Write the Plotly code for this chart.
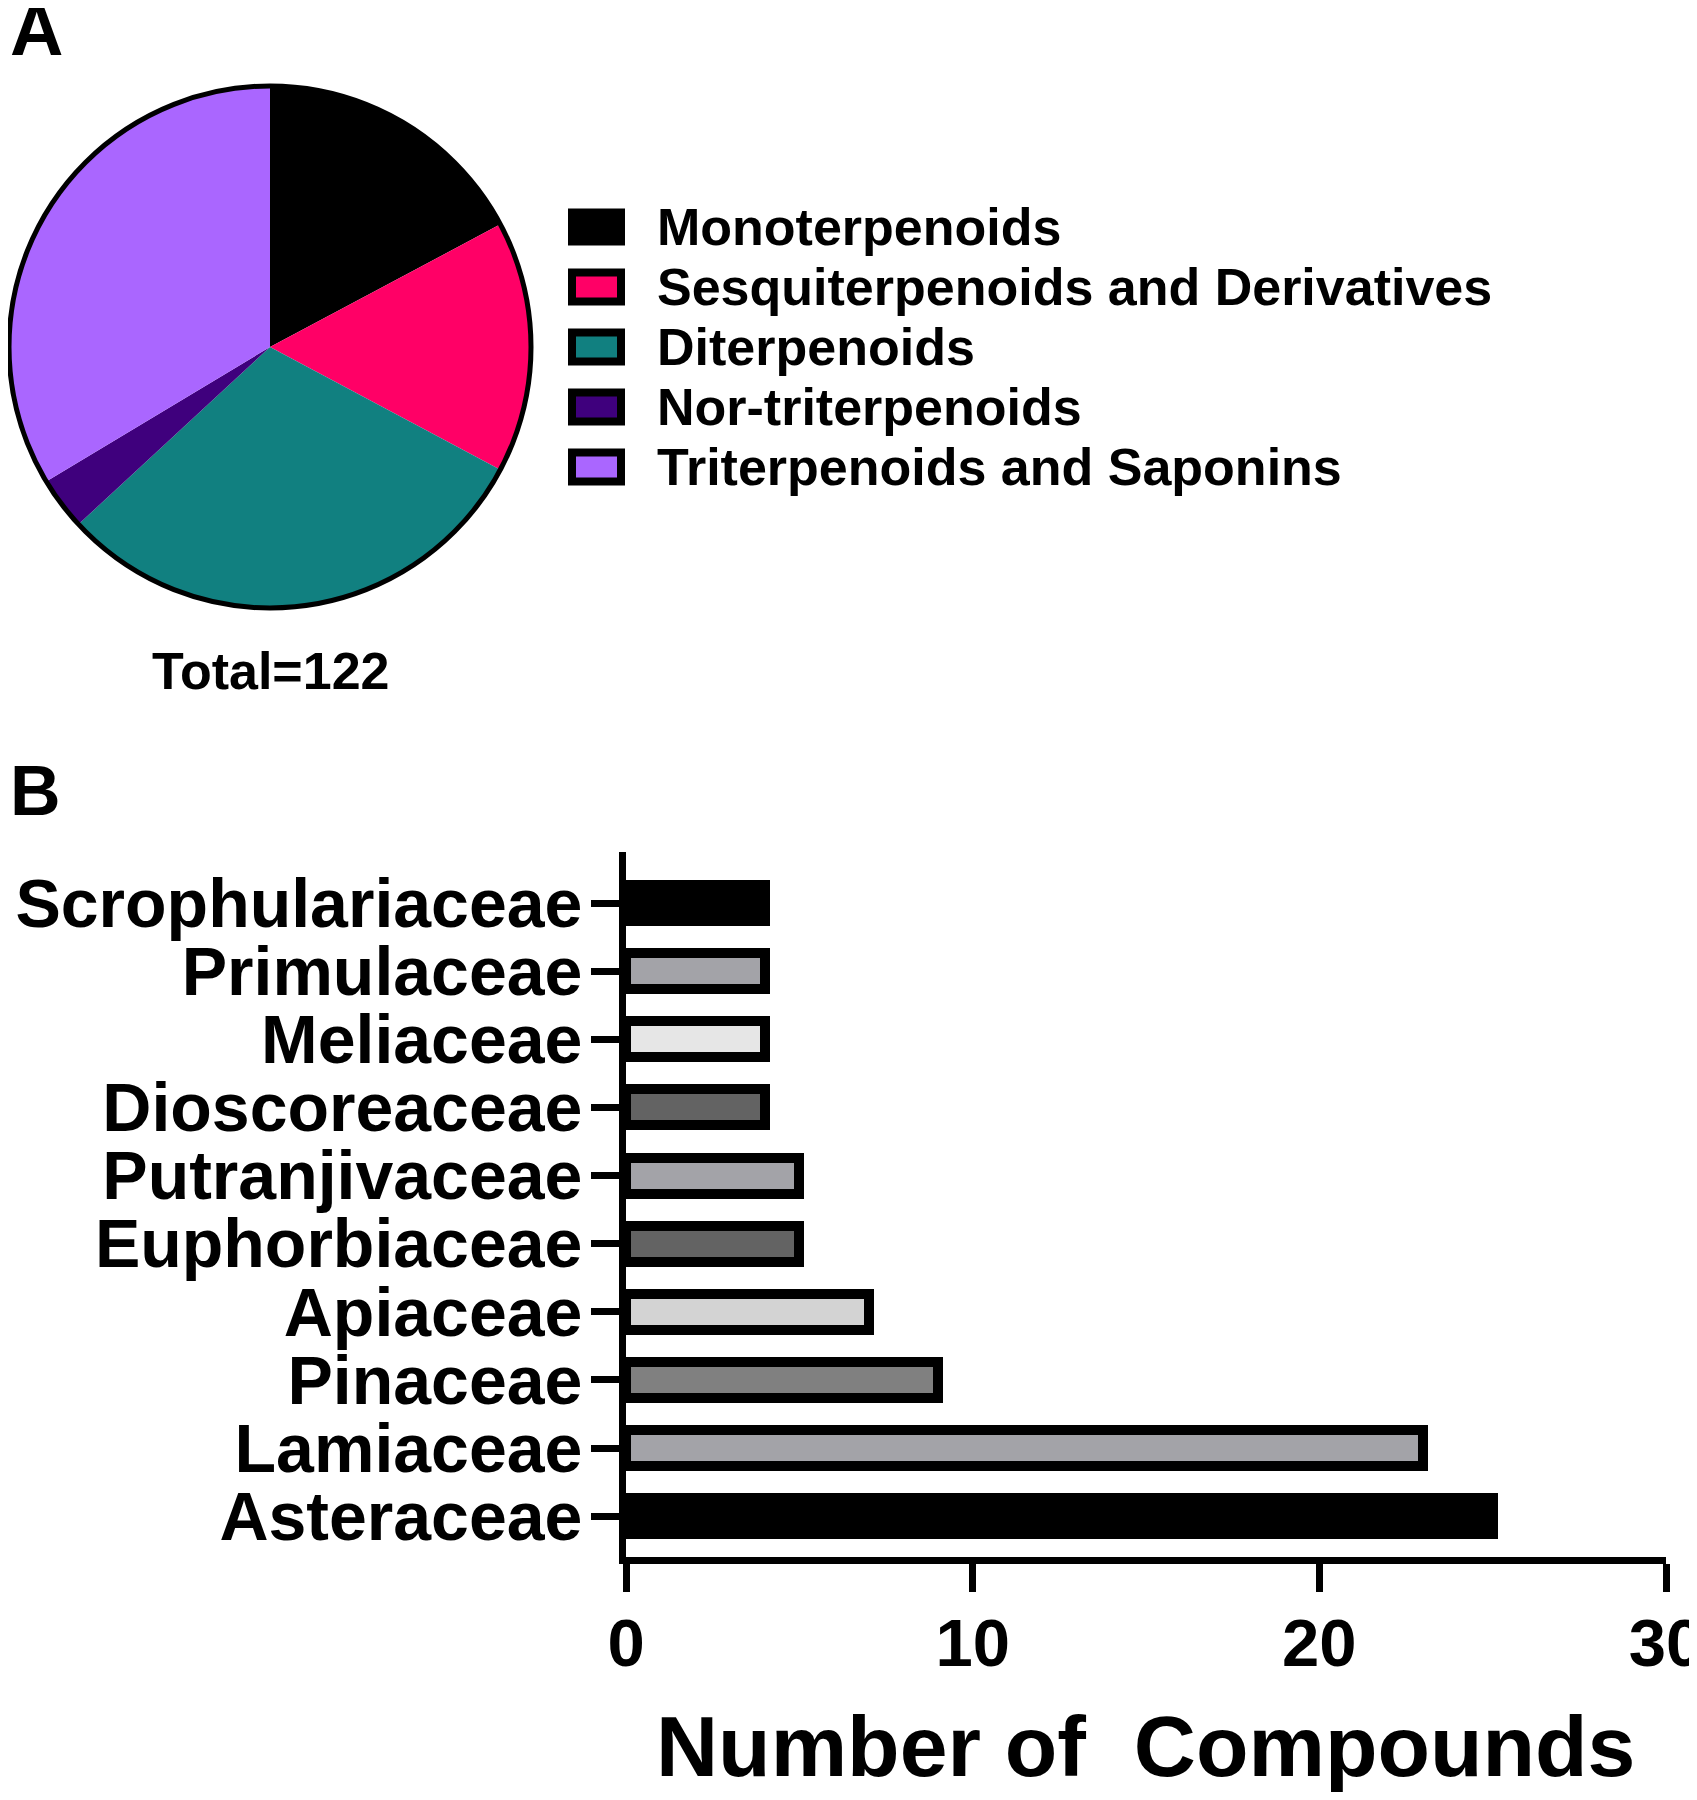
import plotly.graph_objects as go

# the page adds an 8 px body margin; keep the page inside the window so no scrollbar appears
OFF = 8
W, H = 1697 - OFF, 1800 - 2 * OFF

# panel A data
pie_labels = ["Monoterpenoids", "Sesquiterpenoids and Derivatives", "Diterpenoids",
              "Nor-triterpenoids", "Triterpenoids and Saponins"]
pie_values = [21, 19, 37, 4, 41]
pie_colors = ["#000000", "#FF0066", "#118080", "#3F007D", "#AA66FF"]
total_label = "Total=122"

# panel B data (top to bottom as drawn)
families = ["Scrophulariaceae", "Primulaceae", "Meliaceae", "Dioscoreaceae", "Putranjivaceae",
            "Euphorbiaceae", "Apiaceae", "Pinaceae", "Lamiaceae", "Asteraceae"]
compounds = [4, 4, 4, 4, 5, 5, 7, 9, 23, 25]
bar_colors = ["#000000", "#A3A3A8", "#E6E6E6", "#636363", "#A3A3A8",
              "#636363", "#D3D3D3", "#808080", "#A3A3A8", "#000000"]
x_ticks = [0, 10, 20, 30]
x_title = "Number of  Compounds"

FONT = "Liberation Sans, Arial, sans-serif"


# positions below are given in window pixels
def px(x):
    return (x - OFF) / W


def py(y):
    return 1 - (y - OFF) / H


fig = go.Figure()

# pie, outline added as a circle so the radial edges stay borderless
pie_box = [8, 85, 532, 609]
fig.add_trace(go.Pie(
    labels=pie_labels, values=pie_values, sort=False, direction="clockwise", rotation=0,
    marker=dict(colors=pie_colors, line=dict(width=0)),
    textinfo="none", hoverinfo="label+value", showlegend=False,
    domain=dict(x=[px(pie_box[0]), px(pie_box[2])], y=[py(pie_box[3]), py(pie_box[1])]),
))
fig.add_shape(type="circle", xref="paper", yref="paper",
              x0=px(pie_box[0] + 1), x1=px(pie_box[2] - 1), y0=py(pie_box[3] - 1), y1=py(pie_box[1] + 1),
              line=dict(color="black", width=5))

# hand-made legend
row0, rowstep = 227, 60
for i, (lab, col) in enumerate(zip(pie_labels, pie_colors)):
    yc = row0 + i * rowstep
    if col == "#000000":
        fig.add_shape(type="rect", xref="paper", yref="paper",
                      x0=px(568), x1=px(625), y0=py(yc + 18.5), y1=py(yc - 18.5),
                      fillcolor="black", line=dict(width=0))
    else:
        fig.add_shape(type="rect", xref="paper", yref="paper",
                      x0=px(572), x1=px(621), y0=py(yc + 14.5), y1=py(yc - 14.5),
                      fillcolor=col, line=dict(color="black", width=8))
    fig.add_annotation(x=px(655), y=py(yc), xref="paper", yref="paper", text=lab,
                       xanchor="left", yanchor="middle", showarrow=False,
                       font=dict(family=FONT, size=52, color="black", weight="bold"))

fig.add_annotation(x=px(270), y=py(671), xref="paper", yref="paper", text=total_label,
                   xanchor="center", yanchor="middle", showarrow=False,
                   font=dict(family=FONT, size=52, color="black", weight="bold"))

# panel letters
fig.add_annotation(x=0, y=py(-14), xref="paper", yref="paper", text="A",
                   xanchor="left", yanchor="top", showarrow=False,
                   font=dict(family=FONT, size=74, color="black", weight="bold"))
fig.add_annotation(x=0, y=py(791), xref="paper", yref="paper", text="B",
                   xanchor="left", yanchor="middle", showarrow=False,
                   font=dict(family=FONT, size=70, color="black", weight="bold"))

# bar chart
fig.add_trace(go.Bar(
    x=compounds[::-1], y=families[::-1], orientation="h", width=0.53,
    marker=dict(color=bar_colors[::-1], line=dict(color="black", width=10)),
    showlegend=False, xaxis="x", yaxis="y",
))

fig.add_annotation(x=px(1145), y=py(1746), xref="paper", yref="paper", text=x_title,
                   xanchor="center", yanchor="middle", showarrow=False,
                   font=dict(family=FONT, size=86, color="black", weight="bold"))

fig.update_layout(
    width=W, height=H, margin=dict(l=0, r=0, t=0, b=0, autoexpand=False),
    paper_bgcolor="white", plot_bgcolor="white",
    font=dict(family=FONT, color="black"),
    bargap=0,
    xaxis=dict(domain=[px(626), px(1666)], range=[0, 30], tickmode="array", tickvals=x_ticks,
               automargin=False,
               showline=True, linewidth=7, linecolor="black",
               ticks="outside", ticklen=28, tickwidth=7, tickcolor="black",
               ticklabeloverflow="allow", ticklabelstandoff=-6,
               showgrid=False, zeroline=False, anchor="y",
               tickfont=dict(family=FONT, size=67, color="black", weight="bold")),
    yaxis=dict(domain=[py(1557), py(852)], range=[-0.6, 9.75], type="category",
               categoryorder="array", categoryarray=families[::-1],
               tickmode="array", tickvals=families[::-1], ticktext=families[::-1],
               automargin=False,
               showline=True, linewidth=7, linecolor="black",
               ticks="outside", ticklen=28, tickwidth=7, tickcolor="black",
               ticklabeloverflow="allow", ticklabelstandoff=-5,
               showgrid=False, zeroline=False, anchor="x",
               tickfont=dict(family=FONT, size=68, color="black", weight="bold")),
)

fig.write_html("out.html")
